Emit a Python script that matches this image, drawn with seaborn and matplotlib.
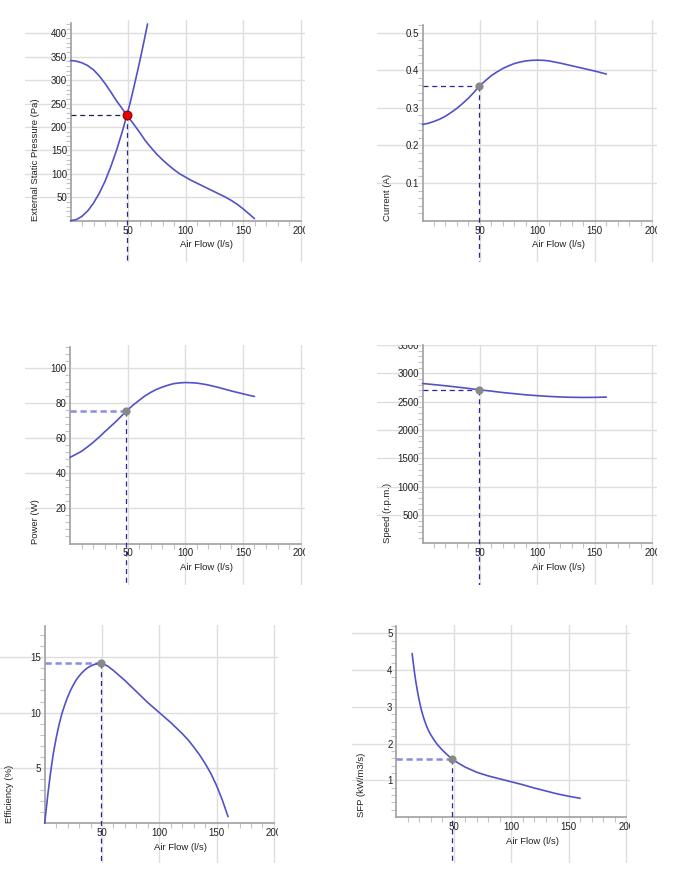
import matplotlib
matplotlib.use("Agg")
import matplotlib.pyplot as plt
import pandas as pd
import seaborn as sns
from matplotlib.ticker import FixedLocator

# ---------------- data ----------------
flow_fan = [0, 5, 10, 15, 20, 25, 30, 35, 40, 45, 49, 55, 60, 65, 70, 75, 80, 85, 90,
            95, 100, 105, 110, 115, 120, 125, 130, 135, 140, 145, 150, 155, 160]
pressure_fan = [342, 340.5, 337, 331, 322, 309, 293, 275, 256, 239, 225, 206, 189, 171,
                156, 142, 130, 119, 109, 100, 93, 86, 80, 74, 68, 62, 56, 50, 43, 35,
                25.5, 15, 4.5]

flow_sys = [0, 5, 10, 15, 20, 25, 30, 35, 40, 45, 49, 52, 55, 58, 61, 64, 67]
pressure_sys = [0, 2.3, 9.4, 21, 37.5, 58.5, 84, 115, 150, 190, 225, 253, 284, 316,
                349, 384, 420]

flow_main = [0, 5, 10, 15, 20, 25, 30, 35, 40, 45, 49, 55, 60, 65, 70, 75, 80, 85, 90,
             95, 100, 105, 110, 115, 120, 125, 130, 135, 140, 145, 150, 155, 160]
current_a = [0.256, 0.259, 0.264, 0.270, 0.278, 0.288, 0.299, 0.312, 0.326, 0.342,
             0.357, 0.373, 0.386, 0.396, 0.405, 0.412, 0.418, 0.422, 0.425, 0.4265,
             0.427, 0.4265, 0.425, 0.422, 0.419, 0.4155, 0.412, 0.4085, 0.405, 0.4015,
             0.398, 0.394, 0.390]
power_w = [49, 50.7, 52.5, 54.9, 57.5, 60.4, 63.5, 66.5, 69.5, 72.8, 75.5, 78.9, 81.5,
           84, 86, 87.7, 89, 90.1, 91, 91.4, 91.6, 91.5, 91.3, 90.8, 90.2, 89.4, 88.6,
           87.7, 86.8, 86, 85.2, 84.4, 83.7]

flow_speed = [0, 10, 20, 30, 40, 49, 60, 70, 80, 90, 100, 110, 120, 130, 140, 150, 160]
speed_rpm = [2820, 2800, 2780, 2757, 2733, 2710, 2685, 2660, 2640, 2620, 2605, 2592,
             2582, 2576, 2574, 2575, 2580]

flow_eff = [0, 2.5, 5, 7.5, 10, 12.5, 15, 17.5, 20, 22.5, 25, 27.5, 30, 32.5, 35, 37.5,
            40, 42.5, 45, 49, 52, 55, 60, 65, 70, 75, 80, 85, 90, 95, 100, 105, 110,
            115, 120, 125, 130, 135, 140, 145, 150, 155, 160]
efficiency_pct = [0, 2.4, 4.5, 6.3, 7.7, 8.9, 9.9, 10.7, 11.4, 12.0, 12.5, 12.95, 13.3,
                  13.6, 13.85, 14.05, 14.2, 14.32, 14.4, 14.45, 14.35, 14.2, 13.8, 13.35,
                  12.9, 12.4, 11.9, 11.4, 10.9, 10.45, 10.0, 9.55, 9.1, 8.6, 8.1, 7.55,
                  6.9, 6.2, 5.4, 4.5, 3.4, 2.1, 0.6]

flow_sfp = [14, 15, 16, 17, 18, 19, 20, 22, 24, 26, 28, 30, 33, 36, 40, 45, 49, 55, 60,
            65, 70, 75, 80, 90, 100, 110, 120, 130, 140, 150, 160]
sfp = [4.45, 4.2, 3.95, 3.73, 3.54, 3.36, 3.2, 2.92, 2.7, 2.52, 2.37, 2.25, 2.1, 1.97,
       1.83, 1.68, 1.57, 1.45, 1.36, 1.29, 1.22, 1.17, 1.12, 1.04, 0.96, 0.88, 0.79,
       0.71, 0.63, 0.565, 0.51]

op_flow = 49
op_pressure = 225
op_current = 0.357
op_power = 75.5
op_speed = 2706
op_eff = 14.45
op_sfp = 1.57

xticks = [50, 100, 150, 200]
xlabel = "Air Flow (l/s)"

# ---------------- styling ----------------
sns.set_theme(style="white")
plt.rcParams["font.family"] = ["Liberation Sans", "DejaVu Sans"]

W, H = 678, 883
fig = plt.figure(figsize=(W / 100, H / 100), dpi=100)

CURVE = "#5252c8"
DARK = "#2626a0"
LIGHT = "#8c8ce0"
GRID = "#dedede"
SPINE = "#a0a0a0"
TXT = "#222222"
FS = 7.0
LFS = 6.8


def make_axes(x0, y0, sx, sy, left, right, top, bottom, ytop):
    ax = fig.add_axes([left / W, 1 - bottom / H, (right - left) / W, (bottom - top) / H])
    ax.set_facecolor("none")
    ax.set_xlim((left - x0) / sx, (right - x0) / sx)
    ax.set_ylim(-(bottom - y0) / sy, (y0 - top) / sy)
    for s in ("top", "right"):
        ax.spines[s].set_visible(False)
    for s in ("left", "bottom"):
        ax.spines[s].set_position(("data", 0))
        ax.spines[s].set_color(SPINE)
        ax.spines[s].set_linewidth(1.2)
        ax.spines[s].set_zorder(3)
    ax.spines["left"].set_bounds(0, ytop)
    ax.spines["bottom"].set_bounds(0, 200)
    return ax


def finish(ax, yticks, yminor, ytop, ylabel, ylabels=None):
    ax.set_xlabel("")
    ax.set_ylabel("")
    ax.xaxis.set_major_locator(FixedLocator(xticks))
    ax.set_xticklabels([str(v) for v in xticks])
    ax.xaxis.set_minor_locator(FixedLocator([v for v in range(10, 200, 10) if v % 50]))
    ax.yaxis.set_major_locator(FixedLocator(yticks))
    ax.set_yticklabels(ylabels if ylabels else [str(v) for v in yticks])
    step = yminor
    minors = []
    k = 1
    while k * step < ytop + 1e-9:
        v = k * step
        if all(abs(v - t) > step / 10 for t in yticks):
            minors.append(v)
        k += 1
    ax.yaxis.set_minor_locator(FixedLocator(minors))
    ax.tick_params(axis="both", which="major", length=0, labelsize=FS, colors=TXT,
                   left=True, bottom=True)
    ax.tick_params(axis="x", which="major", pad=3.5)
    ax.tick_params(axis="y", which="major", pad=2.5)
    ax.tick_params(axis="both", which="minor", length=3.5, width=0.8, color="#c4c4c4",
                   direction="out", left=True, bottom=True)
    ax.grid(True, which="major", color=GRID, linewidth=1.0)
    ax.set_axisbelow(True)
    for lbl in ax.get_xticklabels() + ax.get_yticklabels():
        lbl.set_clip_on(True)
        lbl.set_clip_box(ax.bbox)
    ax.annotate(xlabel, xy=(118.5, 0), xycoords="data", xytext=(0, -24),
                textcoords="offset pixels", ha="center", va="center", fontsize=LFS,
                color=TXT)
    ax.annotate(ylabel, xy=(0, 0), xycoords="data", xytext=(-35, 0),
                textcoords="offset pixels", ha="center", va="bottom", rotation=90,
                fontsize=LFS, color=TXT)


def op_lines(ax, x, y, hcolor, hlw, hdash):
    ybot = ax.get_ylim()[0]
    ax.plot([0, x], [y, y], color=hcolor, lw=hlw, dashes=hdash, zorder=4)
    ax.plot([x, x], [y, ybot], color=DARK, lw=0.9, dashes=(4, 3), zorder=4)


def curve(ax, xs, ys):
    df = pd.DataFrame({"x": xs, "y": ys})
    sns.lineplot(data=df, x="x", y="y", ax=ax, color=CURVE, lw=1.2, sort=False,
                 estimator=None, zorder=5)


def point(ax, x, y, face, edge, size):
    sns.scatterplot(x=[x], y=[y], ax=ax, color=face, edgecolor=edge, s=size,
                    linewidth=0.8, zorder=6)


# ---- Panel 1: pressure ----
ax1 = make_axes(70.5, 220.7, 1.15, 0.4685, 25, 305, 20, 262, 422)
curve(ax1, flow_fan, pressure_fan)
curve(ax1, flow_sys, pressure_sys)
op_lines(ax1, op_flow, op_pressure, "#1c1c60", 0.9, (4, 3))
point(ax1, op_flow, op_pressure, "#ee0000", "#8a0000", 40)
finish(ax1, [50, 100, 150, 200, 250, 300, 350, 400], 10, 422, "External Static Pressure (Pa)")

# ---- Panel 2: current ----
ax2 = make_axes(422.5, 220.7, 1.149, 376, 377, 657, 20, 262, 0.52)
curve(ax2, flow_main, current_a)
op_lines(ax2, op_flow, op_current, DARK, 0.9, (4, 3))
point(ax2, op_flow, op_current, "#888888", "#888888", 26)
finish(ax2, [0.1, 0.2, 0.3, 0.4, 0.5], 0.02, 0.52, "Current (A)",
       ["0.1", "0.2", "0.3", "0.4", "0.5"])

# ---- Panel 3: power ----
ax3 = make_axes(70, 543.5, 1.153, 1.757, 25, 305, 345, 585, 112)
curve(ax3, flow_main, power_w)
op_lines(ax3, op_flow, op_power, LIGHT, 1.8, (2.5, 1.5))
point(ax3, op_flow, op_power, "#888888", "#888888", 26)
finish(ax3, [20, 40, 60, 80, 100], 4, 112, "Power (W)")

# ---- Panel 4: speed ----
ax4 = make_axes(422.5, 543.3, 1.149, 0.05667, 377, 657, 344.6, 585, 3500)
curve(ax4, flow_speed, speed_rpm)
op_lines(ax4, op_flow, op_speed, DARK, 0.9, (4, 3))
point(ax4, op_flow, op_speed, "#888888", "#888888", 26)
finish(ax4, [500, 1000, 1500, 2000, 2500, 3000, 3500], 100, 3500, "Speed (r.p.m.)")

# ---- Panel 5: efficiency ----
ax5 = make_axes(44.7, 823.3, 1.146, 11.07, 0, 278, 625, 863, 17.8)
curve(ax5, flow_eff, efficiency_pct)
op_lines(ax5, op_flow, op_eff, LIGHT, 1.8, (2.5, 1.5))
point(ax5, op_flow, op_eff, "#888888", "#888888", 26)
finish(ax5, [5, 10, 15], 1, 17.8, "Efficiency (%)")

# ---- Panel 6: SFP ----
ax6 = make_axes(396, 817, 1.151, 36.73, 352, 630, 625, 863, 5.2)
curve(ax6, flow_sfp, sfp)
op_lines(ax6, op_flow, op_sfp, LIGHT, 1.8, (2.5, 1.5))
point(ax6, op_flow, op_sfp, "#888888", "#888888", 26)
finish(ax6, [1, 2, 3, 4, 5], 0.2, 5.2, "SFP (kW/m3/s)")

fig.savefig("out.png", dpi=100, facecolor="white")
